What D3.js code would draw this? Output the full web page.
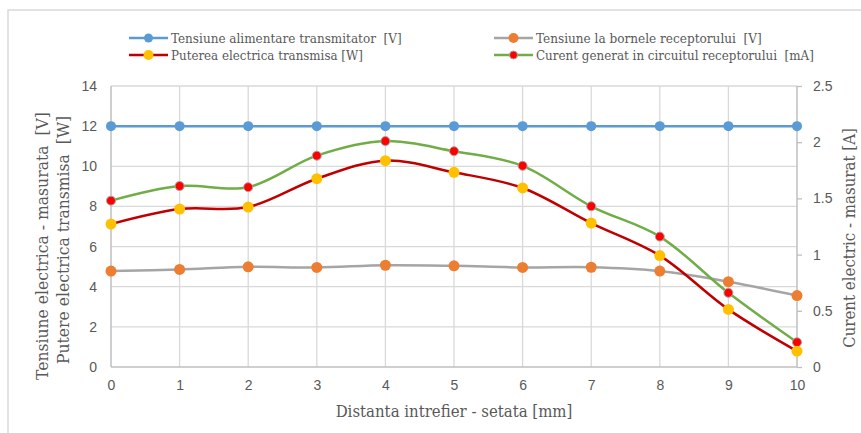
<!DOCTYPE html>
<html>
<head>
<meta charset="utf-8">
<script src="https://cdn.jsdelivr.net/npm/d3@7"></script>
<style>
  body { margin: 0; background: #fff; }
  svg { display: block; }
  svg text { white-space: pre; }
</style>
</head>
<body>
<svg id="chart" width="861" height="433"></svg>
<script>
// distance intrefier [mm]
const distances = [0, 1, 2, 3, 4, 5, 6, 7, 8, 9, 10];

// series values
const tensiuneAlimentare = [12, 12, 12, 12, 12, 12, 12, 12, 12, 12, 12];
const tensiuneBornele = [4.78, 4.86, 4.99, 4.96, 5.07, 5.04, 4.96, 4.97, 4.78, 4.25, 3.56];
const putereTransmisa = [7.12, 7.87, 7.97, 9.38, 10.28, 9.7, 8.92, 7.17, 5.55, 2.87, 0.79];
const curentGenerat = [1.48, 1.61, 1.6, 1.88, 2.01, 1.92, 1.79, 1.43, 1.16, 0.66, 0.22];

const leftTicks = [0, 2, 4, 6, 8, 10, 12, 14];
const rightTicks = [0, 0.5, 1, 1.5, 2, 2.5];

const seriesNames = [
	"Tensiune alimentare transmitator  [V]",
	"Tensiune la bornele receptorului  [V]",
	"Puterea electrica transmisa [W]",
	"Curent generat in circuitul receptorului  [mA]"
];

const plot = { left: 111, right: 797, top: 86, bottom: 367 };
const tickFont = "Liberation Sans, Arial, sans-serif";
const serifFont = "DejaVu Serif, Liberation Serif, Times New Roman, serif";
const textGray = "#595959";

const svg = d3.select("#chart");

// the serif face here is wider than the original one, so squeeze it to the measured width
function fitWidth(sel, target) {
	let size = 0;
	sel.each(function() {
		const len = this.getComputedTextLength();
		size = +d3.select(this).attr("font-size");
		if (len > 0) {
			size = size * target / len;
			d3.select(this).attr("font-size", size);
		}
	});
	return size;
}

// chart border
svg.append("rect")
	.attr("x", 8).attr("y", 10)
	.attr("width", 870).attr("height", 440)
	.attr("fill", "none")
	.attr("stroke", "#d9d9d9")
	.attr("stroke-width", 1.5);

const x = d3.scaleLinear().domain([0, 10]).range([plot.left, plot.right]);
const yLeft = d3.scaleLinear().domain([0, 14]).range([plot.bottom, plot.top]);
const yRight = d3.scaleLinear().domain([0, 2.5]).range([plot.bottom, plot.top]);

// gridlines
const grid = svg.append("g").attr("class", "grid");
grid.selectAll("line.h")
	.data(leftTicks.filter(d => d > 0))
	.join("line")
	.attr("class", "h")
	.attr("x1", plot.left).attr("x2", plot.right)
	.attr("y1", d => yLeft(d)).attr("y2", d => yLeft(d))
	.attr("stroke", "#d9d9d9").attr("stroke-width", 1.3);

grid.selectAll("line.v")
	.data(distances.filter(d => d > 0 && d < 10))
	.join("line")
	.attr("class", "v")
	.attr("x1", d => x(d)).attr("x2", d => x(d))
	.attr("y1", plot.top).attr("y2", plot.bottom)
	.attr("stroke", "#d9d9d9").attr("stroke-width", 1.3);

// left axis
const leftAxis = svg.append("g")
	.attr("transform", `translate(${plot.left},0)`)
	.call(d3.axisLeft(yLeft).tickValues(leftTicks).tickSize(0).tickPadding(14));

// right axis
const rightAxis = svg.append("g")
	.attr("transform", `translate(${plot.right},0)`)
	.call(d3.axisRight(yRight).tickValues(rightTicks).tickSize(5).tickPadding(11).tickFormat(d3.format("")));

// bottom axis
const bottomAxis = svg.append("g")
	.attr("transform", `translate(0,${plot.bottom})`)
	.call(d3.axisBottom(x).tickValues(distances).tickSize(0).tickPadding(13));

[leftAxis, rightAxis, bottomAxis].forEach(a => {
	a.attr("font-family", tickFont).attr("font-size", 14);
	a.select(".domain").attr("stroke", "#bfbfbf").attr("stroke-width", 1.5);
	a.selectAll(".tick line").attr("stroke", "#bfbfbf").attr("stroke-width", 1.3);
	a.selectAll("text").attr("fill", textGray);
});
leftAxis.select(".domain").attr("d", `M0,${plot.top}V${plot.bottom}`);
rightAxis.select(".domain").attr("d", `M0,${plot.top}V${plot.bottom}`);
bottomAxis.select(".domain").attr("d", `M${plot.left},0H${plot.right}`);

// series definitions
const series = [
	{ name: seriesNames[0], values: tensiuneAlimentare, y: yLeft, line: "#5b9bd5", fill: "#5b9bd5", stroke: "none", r: 5, legendW: 231 },
	{ name: seriesNames[1], values: tensiuneBornele, y: yLeft, line: "#a5a5a5", fill: "#ed7d31", stroke: "none", r: 5.5, legendW: 226 },
	{ name: seriesNames[2], values: putereTransmisa, y: yLeft, line: "#c00000", fill: "#ffc000", stroke: "none", r: 5.5, legendW: 192 },
	{ name: seriesNames[3], values: curentGenerat, y: yRight, line: "#70ad47", fill: "#ff0000", stroke: "#a5a5a5", r: 4.5, legendW: 278 }
];

const drawOrder = [series[0], series[1], series[3], series[2]];

drawOrder.forEach(s => {
	const line = d3.line()
		.x((d, i) => x(distances[i]))
		.y(d => s.y(d))
		.curve(d3.curveCatmullRom.alpha(0.5));

	svg.append("path")
		.datum(s.values)
		.attr("d", line)
		.attr("fill", "none")
		.attr("stroke", s.line)
		.attr("stroke-width", 2.5);

	svg.append("g")
		.selectAll("circle")
		.data(s.values)
		.join("circle")
		.attr("cx", (d, i) => x(distances[i]))
		.attr("cy", d => s.y(d))
		.attr("r", s.r)
		.attr("fill", s.fill)
		.attr("stroke", s.stroke)
		.attr("stroke-width", s.stroke == "none" ? 0 : 1);
});

// legend
const legendPos = [
	{ x: 129, y: 38 },
	{ x: 494, y: 38 },
	{ x: 129, y: 55 },
	{ x: 494, y: 55 }
];

const legend = svg.append("g")
	.selectAll("g")
	.data(series)
	.join("g")
	.attr("transform", (d, i) => `translate(${legendPos[i].x},${legendPos[i].y})`);

legend.append("line")
	.attr("x1", 0).attr("x2", 39)
	.attr("stroke", d => d.line)
	.attr("stroke-width", 2.5);

legend.append("circle")
	.attr("cx", 19.5)
	.attr("r", d => d.r - 0.5)
	.attr("fill", d => d.fill)
	.attr("stroke", d => d.stroke)
	.attr("stroke-width", d => d.stroke == "none" ? 0 : 1);

legend.append("text")
	.attr("x", 42)
	.attr("dy", "0.35em")
	.attr("fill", textGray)
	.attr("font-family", serifFont)
	.attr("font-stretch", "condensed")
	.attr("font-size", 14)
	.text(d => d.name)
	.each(function(d) { fitWidth(d3.select(this), d.legendW); });

// axis titles
function axisTitle(label, tx, ty, rotate, size) {
	return svg.append("text")
		.attr("transform", `translate(${tx},${ty})` + (rotate ? " rotate(-90)" : ""))
		.attr("text-anchor", "middle")
		.attr("dy", "0.35em")
		.attr("fill", textGray)
		.attr("font-family", serifFont)
		.attr("font-stretch", "condensed")
		.attr("font-size", size)
		.text(label);
}

const leftTitle = axisTitle("Tensiune electrica - masurata  [V]", 42, 246, true, 16);
const leftSize = fitWidth(leftTitle, 268);
axisTitle("Putere electrica transmisa  [W]", 63, 240, true, leftSize);
fitWidth(axisTitle("Curent electric - masurat [A]", 849, 238, true, 16), 220);
fitWidth(axisTitle("Distanta intrefier - setata [mm]", (plot.left + plot.right) / 2, 411, false, 16), 237);
</script>
</body>
</html>
